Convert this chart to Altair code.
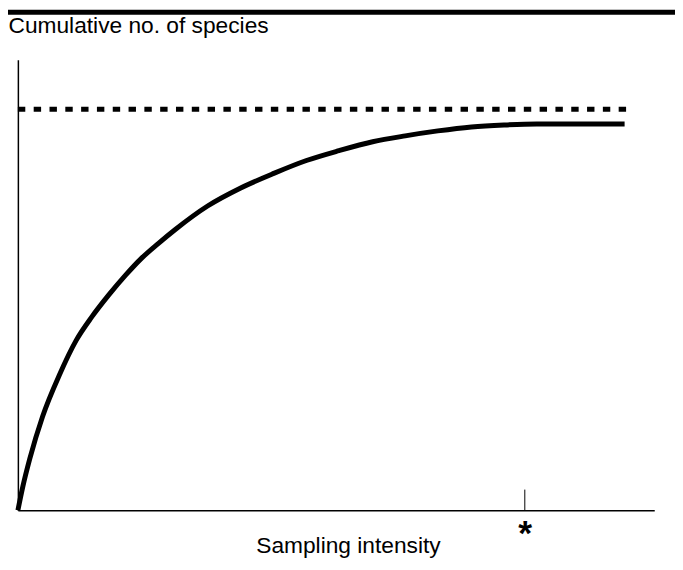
import altair as alt
import pandas as pd

# Accumulation curve (in plot units)
curve_x = [0, 5, 12, 25, 42, 59, 75, 92, 109, 125, 142, 159, 192, 225, 259, 292, 325, 359, 392, 425, 459, 492, 525, 614]
curve_y = [0, 24, 52, 95, 137, 172, 196, 218, 238, 255, 270, 284, 308, 326, 341, 354, 364, 373, 379, 384, 388, 390, 391, 391]

asymptote_x = [0, 616]
asymptote_y = [406, 406]

marker_x = [513]          # position of the asterisk tick

x_title = "Sampling intensity"
y_title = "Cumulative no. of species"

FONT = "Liberation Sans"
TITLE_SIZE = 23

curve_df = pd.DataFrame({"x": curve_x, "y": curve_y})
asym_df = pd.DataFrame({"x": asymptote_x, "y": asymptote_y})
tick_df = pd.DataFrame({"x": marker_x, "y0": [0], "y1": [21]})

xscale = alt.Scale(domain=[0, 644], nice=False, zero=False)
yscale = alt.Scale(domain=[0, 456], nice=False, zero=False)

x_axis = alt.Axis(
    values=marker_x, labelExpr="'*'", ticks=False, grid=False,
    domainColor="black", domainWidth=1.5,
    labelFont=FONT, labelFontSize=36, labelFontWeight="bold", labelColor="black",
    labelPadding=7, labelAngle=0,
    title=x_title, titleFont=FONT, titleFontSize=TITLE_SIZE, titleFontWeight="normal",
    titleColor="black", titleX=334, titleAlign="center", titleY=36, titleBaseline="middle",
)
y_axis = alt.Axis(
    values=[], ticks=False, labels=False, grid=False,
    domainColor="black", domainWidth=1.5,
    title=y_title, titleFont=FONT, titleFontSize=TITLE_SIZE, titleFontWeight="normal",
    titleColor="black", titleAngle=0, titleAlign="left", titleBaseline="alphabetic",
    titleX=-10, titleY=-28,
)

curve = alt.Chart(curve_df).mark_line(
    color="black", strokeWidth=5, interpolate="monotone", strokeCap="butt"
).encode(
    x=alt.X("x:Q", scale=xscale, axis=x_axis),
    y=alt.Y("y:Q", scale=yscale, axis=y_axis),
)

asym = alt.Chart(asym_df).mark_line(
    color="black", strokeWidth=5, strokeDash=[7.5, 8.5], strokeCap="butt"
).encode(
    x=alt.X("x:Q", scale=xscale),
    y=alt.Y("y:Q", scale=yscale),
)

tick = alt.Chart(tick_df).mark_rule(color="black", strokeWidth=1).encode(
    x=alt.X("x:Q", scale=xscale),
    y=alt.Y("y0:Q", scale=yscale),
    y2="y1:Q",
)

top_bar = alt.Chart(pd.DataFrame({"a": [0]})).mark_rule(
    color="black", strokeWidth=5
).encode(
    x=alt.value(-10), x2=alt.value(665), y=alt.value(-48)
)

chart = alt.layer(top_bar, asym, curve, tick).properties(
    width=644, height=456,
    background="white",
    autosize=alt.AutoSizeParams(type="none"),
    padding={"left": 10, "top": 49, "right": 21, "bottom": 57},
).configure_view(stroke=None, strokeWidth=0)

chart.save("out.html", embed_options={"renderer": "svg", "actions": False})
